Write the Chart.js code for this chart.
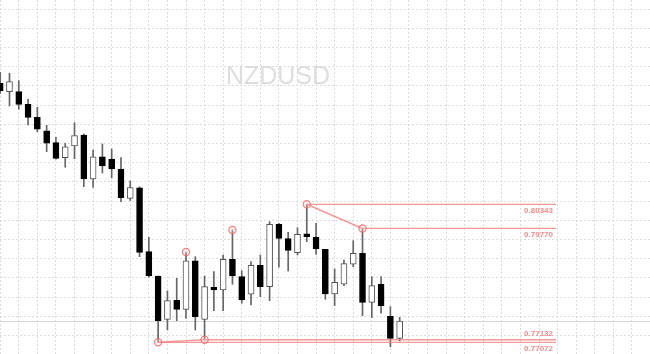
<!DOCTYPE html>
<html><head><meta charset="utf-8">
<script src="https://cdn.jsdelivr.net/npm/chart.js@4.4.0/dist/chart.umd.min.js"></script>
<style>html,body{margin:0;padding:0;background:#fff;overflow:hidden}canvas{display:block}</style>
</head><body>
<canvas id="c" width="650" height="354"></canvas>
<script>
const symbol = 'NZDUSD';
const opens  = [0.83211,0.83012,0.83012,0.82713,0.82405,0.82087,0.81803,0.81448,0.81725,0.81986,0.80943,0.81471,0.81417,0.81180,0.80481,0.80736,0.79220,0.78644,0.77617,0.78068,0.77854,0.79006,0.77617,0.78376,0.78312,0.79039,0.78627,0.78210,0.78897,0.78390,0.79869,0.79532,0.79196,0.79646,0.79568,0.79276,0.78217,0.78447,0.78921,0.79182,0.78020,0.78447,0.77688,0.77167];
const highs  = [0.83472,0.83448,0.83273,0.82832,0.82642,0.82215,0.81931,0.81789,0.82277,0.82009,0.81630,0.81772,0.81654,0.81452,0.80895,0.80760,0.79561,0.78644,0.78288,0.78589,0.79212,0.79101,0.78644,0.78746,0.79141,0.79734,0.78769,0.78983,0.79141,0.79931,0.79893,0.79679,0.79788,0.80343,0.79893,0.79276,0.78810,0.79023,0.79480,0.79770,0.78627,0.78627,0.77916,0.77665];
const lows   = [0.82974,0.82673,0.82595,0.82223,0.82064,0.81590,0.81410,0.81220,0.81424,0.80760,0.80746,0.81085,0.80966,0.80405,0.80433,0.79101,0.78613,0.77072,0.77364,0.77584,0.77641,0.77364,0.77132,0.77821,0.77821,0.78447,0.77997,0.77956,0.78153,0.78058,0.78850,0.78762,0.79141,0.79457,0.79158,0.78091,0.77940,0.78414,0.78864,0.77703,0.77655,0.77760,0.76968,0.77103];
const closes = [0.83028,0.83249,0.82713,0.82405,0.82121,0.81789,0.81433,0.81708,0.81969,0.80943,0.81471,0.81251,0.81180,0.80499,0.80741,0.79205,0.78644,0.77584,0.78058,0.77854,0.79006,0.77679,0.78390,0.78312,0.79039,0.78644,0.78075,0.78897,0.78390,0.79869,0.79537,0.79248,0.79632,0.79568,0.79284,0.78217,0.78494,0.78935,0.79182,0.78020,0.78414,0.77940,0.77167,0.77577];

// horizontal levels (anchor candle index, price)
const levelIdx    = [33, 39, 22, 17];
const levelValues = [0.80343, 0.79770, 0.77132, 0.77072];
// trend segments joining levels (by level number)
const trendPairs  = [[0, 1], [3, 2]];
// circle markers (candle index, price)
const markerIdx    = [17, 20, 22, 25, 33, 39];
const markerValues = [0.77072, 0.79212, 0.77132, 0.79734, 0.80343, 0.79770];

const idx = opens.map((_, i) => i);
const PINK = 'rgba(240,120,120,0.75)';
const LEVEL_END = 59.83;

const datasets = [];
datasets.push({
  type: 'bar', order: 4, grouped: false, barThickness: 1,
  data: idx.map(i => ({x: i, y: [lows[i], highs[i]]})),
  backgroundColor: '#666666', borderWidth: 0
});
datasets.push({
  type: 'bar', order: 3, grouped: false, barThickness: 6,
  data: idx.map(i => ({x: i, y: [opens[i], closes[i]]})),
  backgroundColor: idx.map(i => closes[i] >= opens[i] ? '#ffffff' : '#000000'),
  borderColor: idx.map(i => closes[i] >= opens[i] ? '#555555' : '#000000'),
  borderWidth: 1, borderSkipped: false
});
levelValues.forEach((v, k) => {
  datasets.push({
    type: 'line', order: 2,
    data: [{x: levelIdx[k], y: v}, {x: LEVEL_END, y: v}],
    borderColor: PINK, borderWidth: 1.3, pointRadius: 0, fill: false
  });
});
trendPairs.forEach(([a, b]) => {
  datasets.push({
    type: 'line', order: 2,
    data: [{x: levelIdx[a], y: levelValues[a]}, {x: levelIdx[b], y: levelValues[b]}],
    borderColor: PINK, borderWidth: 1.6, pointRadius: 0, fill: false
  });
});
datasets.push({
  type: 'scatter', order: 1,
  data: markerIdx.map((i, k) => ({x: i, y: markerValues[k]})),
  pointRadius: 3.6, pointBorderWidth: 1.2,
  pointBorderColor: 'rgba(235,100,100,0.8)', pointBackgroundColor: 'rgba(255,210,210,0.35)'
});

const overlay = {
  id: 'overlay',
  beforeDatasetsDraw(chart) {
    const {ctx, scales: {x, y}, chartArea} = chart;
    ctx.save();
    ctx.fillStyle = '#dedede';
    ctx.font = '25px "Liberation Sans", Arial, sans-serif';
    ctx.textAlign = 'center'; ctx.textBaseline = 'middle';
    ctx.fillText(symbol, x.getPixelForValue(LEVEL_END) / 2, chartArea.top + 77);
    const py = Math.round(y.getPixelForValue(closes[closes.length - 1])) + 0.5;
    ctx.strokeStyle = '#d8d8d8'; ctx.lineWidth = 1;
    ctx.beginPath(); ctx.moveTo(chartArea.left, py); ctx.lineTo(chartArea.right, py); ctx.stroke();
    ctx.restore();
  },
  afterDatasetsDraw(chart) {
    const {ctx, scales: {x, y}} = chart;
    ctx.save();
    ctx.fillStyle = 'rgba(240,110,110,0.8)';
    ctx.font = 'bold 8px "Liberation Sans", Arial, sans-serif';
    ctx.textAlign = 'right'; ctx.textBaseline = 'middle';
    const xr = x.getPixelForValue(LEVEL_END) - 3;
    levelValues.forEach((v, k) => {
      const py = y.getPixelForValue(v);
      const crowded = levelValues.some(o => o < v && y.getPixelForValue(o) - py < 10);
      ctx.fillText(v.toFixed(5), xr, crowded ? py - 5.5 : py + 6.7);
    });
    ctx.restore();
  }
};

const gridTop = 0.84970, gridStep = 0.00455;
new Chart(document.getElementById('c'), {
  data: {datasets},
  options: {
    responsive: false, animation: false,
    layout: {padding: 0, autoPadding: false},
    plugins: {legend: {display: false}, tooltip: {enabled: false}},
    scales: {
      x: {
        type: 'linear', min: -0.0215, max: 69.946, offset: false,
        ticks: {display: false, padding: 0},
        grid: {color: '#dddddd', drawTicks: false, tickLength: 0, offset: false},
        border: {display: false, dash: [2, 2]},
        afterBuildTicks: s => { const t = []; for (let v = 0; v <= s.max; v += 2) t.push({value: v}); s.ticks = t; }
      },
      y: {
        type: 'linear', min: 0.767948, max: 0.851853,
        ticks: {display: false, padding: 0},
        grid: {color: '#dddddd', drawTicks: false, tickLength: 0},
        border: {display: false, dash: [2, 2]},
        afterBuildTicks: s => { const t = []; for (let v = gridTop; v > s.min; v -= gridStep) t.push({value: v}); s.ticks = t; }
      }
    }
  },
  plugins: [overlay]
});
</script>
</body></html>
